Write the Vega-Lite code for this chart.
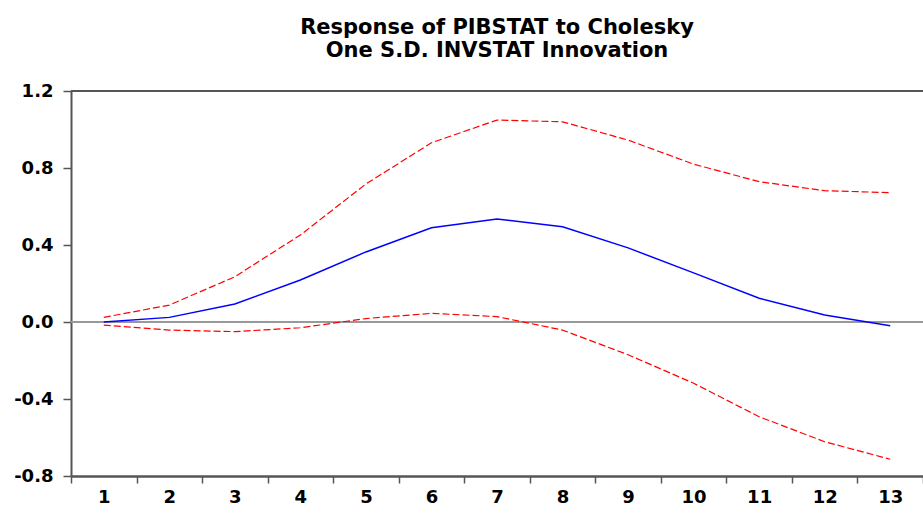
{
  "$schema": "https://vega.github.io/schema/vega-lite/v6.json",
  "autosize": "none",
  "width": 852,
  "height": 385,
  "padding": {"left": 71, "top": 91, "right": 0, "bottom": 37},
  "background": "white",
  "title": {
    "text": ["Response of PIBSTAT to Cholesky", "One S.D. INVSTAT Innovation"],
    "font": "DejaVu Sans",
    "fontSize": 21,
    "fontWeight": "bold",
    "lineHeight": 23,
    "color": "black",
    "anchor": "middle",
    "offset": 21
  },
  "data": {
    "values": [
      {"h": 1, "resp": 0.0, "lo": -0.016, "hi": 0.024},
      {"h": 2, "resp": 0.024, "lo": -0.042, "hi": 0.088},
      {"h": 3, "resp": 0.094, "lo": -0.05, "hi": 0.235},
      {"h": 4, "resp": 0.218, "lo": -0.03, "hi": 0.452},
      {"h": 5, "resp": 0.364, "lo": 0.018, "hi": 0.717},
      {"h": 6, "resp": 0.49, "lo": 0.045, "hi": 0.931},
      {"h": 7, "resp": 0.535, "lo": 0.028, "hi": 1.049},
      {"h": 8, "resp": 0.495, "lo": -0.042, "hi": 1.04},
      {"h": 9, "resp": 0.385, "lo": -0.17, "hi": 0.945},
      {"h": 10, "resp": 0.255, "lo": -0.318, "hi": 0.82},
      {"h": 11, "resp": 0.123, "lo": -0.492, "hi": 0.729},
      {"h": 12, "resp": 0.036, "lo": -0.622, "hi": 0.682},
      {"h": 13, "resp": -0.019, "lo": -0.713, "hi": 0.672}
    ]
  },
  "encoding": {
    "x": {
      "field": "h",
      "type": "ordinal",
      "bandPosition": 0.5,
      "scale": {"type": "band", "paddingInner": 0, "paddingOuter": 0},
      "axis": {
        "title": null,
        "labelAngle": 0,
        "tickBand": "extent",
        "labelFont": "DejaVu Sans",
        "labelFontSize": 18,
        "labelFontWeight": "bold",
        "labelColor": "black",
        "labelPadding": 5,
        "tickSize": 7,
        "tickColor": "#555",
        "tickWidth": 1.5,
        "domainColor": "#555",
        "domainWidth": 2.5
      }
    }
  },
  "layer": [
    {
      "mark": {"type": "rule", "color": "#555", "strokeWidth": 2},
      "encoding": {"y": {"datum": 1.2, "type": "quantitative"}, "x": null}
    },
    {
      "mark": {"type": "rule", "color": "#999", "strokeWidth": 2},
      "encoding": {"y": {"datum": 0, "type": "quantitative"}, "x": null}
    },
    {
      "mark": {"type": "line", "color": "#ff0000", "strokeWidth": 1.2, "strokeDash": [7, 3]},
      "encoding": {
        "y": {
          "field": "hi",
          "type": "quantitative",
          "scale": {"domain": [-0.8, 1.2], "nice": false, "zero": false},
          "axis": {
            "title": null,
            "values": [-0.8, -0.4, 0, 0.4, 0.8, 1.2],
            "labelExpr": "datum.value < 0 ? '-' + format(-datum.value, '.1f') : format(datum.value, '.1f')",
            "grid": false,
            "labelFont": "DejaVu Sans",
            "labelFontSize": 18,
            "labelFontWeight": "bold",
            "labelColor": "black",
            "labelPadding": 10,
            "tickSize": 8,
            "tickColor": "#555",
            "tickWidth": 1.5,
            "domainColor": "#555",
            "domainWidth": 2
          }
        }
      }
    },
    {
      "mark": {"type": "line", "color": "#ff0000", "strokeWidth": 1.2, "strokeDash": [7, 3]},
      "encoding": {"y": {"field": "lo", "type": "quantitative"}}
    },
    {
      "mark": {"type": "line", "color": "#0000ff", "strokeWidth": 1.5},
      "encoding": {"y": {"field": "resp", "type": "quantitative"}}
    }
  ],
  "config": {
    "view": {"stroke": null},
    "axis": {"grid": false}
  }
}
